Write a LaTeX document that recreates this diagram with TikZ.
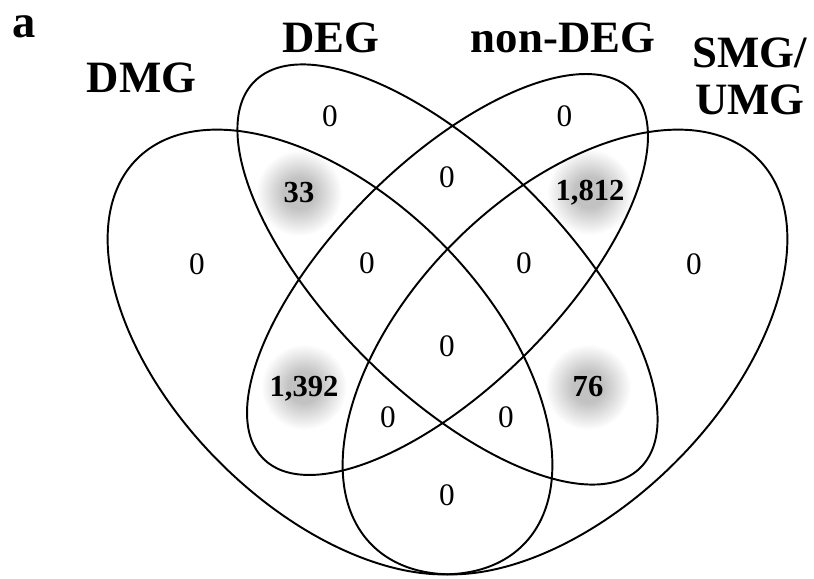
\documentclass[tikz,border=0pt]{standalone}
\usepackage{fontspec}
\setmainfont{Liberation Serif}
\definecolor{glowc}{gray}{0.76}
\pgfdeclareradialshading{glow}{\pgfpoint{0bp}{0bp}}{color(0bp)=(glowc); color(9bp)=(glowc); color(25bp)=(white); color(50bp)=(white)}
\begin{document}
\begin{tikzpicture}[x=0.02cm,y=0.02cm,
  setline/.style={line width=1.1pt},
  lab/.style={font=\fontsize{25.5}{30}\selectfont\bfseries, inner sep=0pt, anchor=base},
  num/.style={font=\fontsize{17.8}{20}\selectfont, inner sep=0pt, anchor=base},
  bignum/.style={font=\fontsize{17.4}{20}\selectfont\bfseries, inner sep=0pt, anchor=base}]
\useasboundingbox (0,0) rectangle (814,578);
% glows behind the non-zero counts
\foreach \p/\q in {299/385, 590/386, 304/191, 588/191}
  \shade[shading=glow] (\p,\q) circle (43);
% sets
\coordinate (cA) at (330,226);
\coordinate (cD) at (565,226);
\coordinate (cBC) at (447.5,303.5);
\draw[setline, rotate around={-45:(cA)}] (cA) ellipse [x radius=273, y radius=156];
\draw[setline, rotate around={45:(cD)}] (cD) ellipse [x radius=273, y radius=156];
\draw[setline, rotate around={-45:(cBC)}] (cBC) ellipse [x radius=273, y radius=117];
\draw[setline, rotate around={45:(cBC)}] (cBC) ellipse [x radius=260.5, y radius=111.7];
% titles
\node[lab, font=\fontsize{26.5}{32}\selectfont\bfseries] (panel) at (24,540) {a};
\node[lab] (tA) at (141.5,485) {DMG};
\node[lab] (tB) at (331,525) {DEG};
\node[lab] (tC) at (563,525) {non-DEG};
\node[lab] (tD1) at (749.5,510) {SMG/};
\node[lab] (tD2) at (750,463) {UMG};
% counts
\node[num] (nB) at (330,451) {0};
\node[num] (nC) at (564.5,451) {0};
\node[num] (nA) at (197,303) {0};
\node[num] (nD) at (694,303) {0};
\node[bignum] (nAB) at (299,375) {33};
\node[num] (nBC) at (447,390) {0};
\node[bignum] (nCD) at (590,377) {1,812};
\node[num] (nABC) at (367,304) {0};
\node[num] (nBCD) at (524,304) {0};
\node[num] (nABCD) at (447,221) {0};
\node[bignum] (nAC) at (304,181) {1,392};
\node[bignum] (nBD) at (588,181) {76};
\node[num] (nACD) at (388,151) {0};
\node[num] (nABD) at (506,151) {0};
\node[num] (nAD) at (447,73) {0};
\end{tikzpicture}
\end{document}
